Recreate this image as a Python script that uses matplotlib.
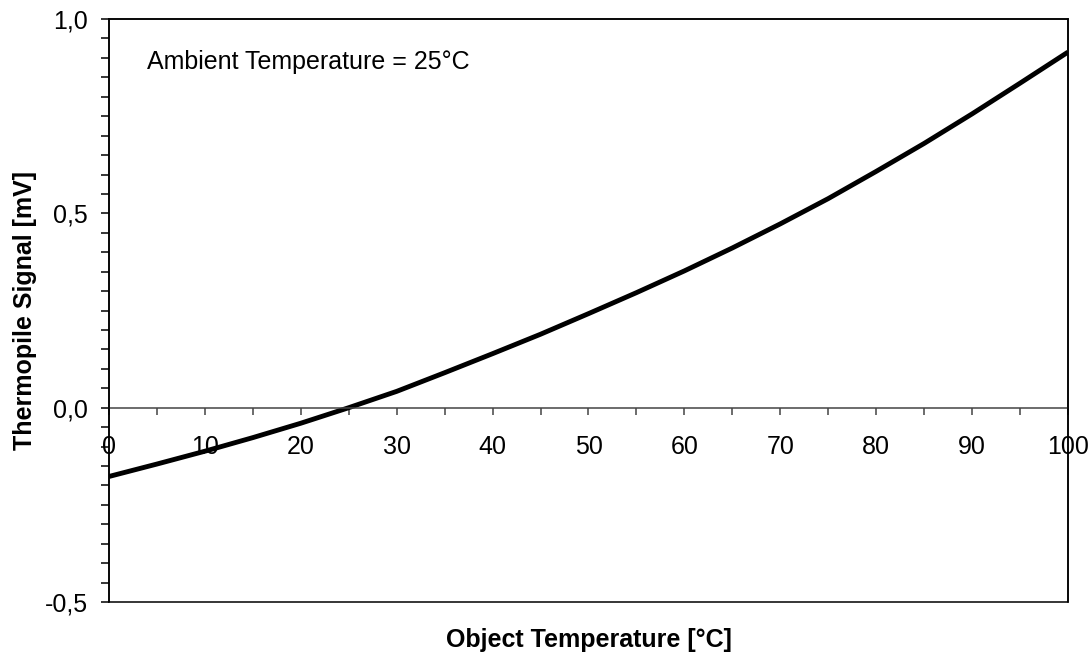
import numpy as np
import matplotlib
matplotlib.use("Agg")
import matplotlib.pyplot as plt
from matplotlib.patches import Rectangle
from matplotlib.ticker import MultipleLocator, FuncFormatter

plt.rcParams['font.family'] = ['Liberation Sans', 'DejaVu Sans']

# object temperature (degC) and thermopile signal (mV)
obj_temp = [0, 5, 10, 15, 20, 25, 30, 35, 40, 45, 50,
            55, 60, 65, 70, 75, 80, 85, 90, 95, 100]
signal = [-0.177, -0.145, -0.112, -0.077, -0.040, 0.000, 0.042, 0.090, 0.139,
          0.189, 0.242, 0.296, 0.352, 0.411, 0.473, 0.538, 0.608, 0.680,
          0.756, 0.835, 0.915]
ambient_text = 'Ambient Temperature = 25°C'

fig = plt.figure(figsize=(10.91, 6.55), dpi=100)
ax = fig.add_axes([0.0999, 0.0809, 0.879, 0.890])

ax.plot(obj_temp, signal, color='black', lw=3.5, solid_capstyle='butt')

ax.set_xlim(0, 100)
ax.set_ylim(-0.5, 1.0)

# x axis runs along the zero line, frame drawn as a box
ax.spines['bottom'].set_position(('data', 0))
ax.spines['bottom'].set_color('#444444')
ax.spines['bottom'].set_linewidth(1.1)
for s in ['left', 'top', 'right']:
    ax.spines[s].set_color('black')
    ax.spines[s].set_linewidth(1.1)
ax.add_patch(Rectangle((0, 0), 1, 1, transform=ax.transAxes, fill=False,
                       edgecolor='black', lw=1.1, clip_on=False, zorder=5))

ax.xaxis.set_major_locator(MultipleLocator(10))
ax.xaxis.set_minor_locator(MultipleLocator(5))
ax.yaxis.set_major_locator(MultipleLocator(0.5))
ax.yaxis.set_minor_locator(MultipleLocator(0.05))
ax.yaxis.set_major_formatter(FuncFormatter(lambda v, p: f'{v:.1f}'.replace('.', ',')))

ax.tick_params(axis='x', which='both', direction='out', length=5, width=1.1,
               color='#444444', labelsize=18, pad=15)
ax.tick_params(axis='y', which='both', direction='out', length=6, width=1.1,
               color='black', labelsize=18, pad=9)

ax.text(0.04, 0.926, ambient_text, transform=ax.transAxes, fontsize=18,
        va='center', ha='left')

ax.set_xlabel('Object Temperature [°C]', fontsize=18, fontweight='bold')
ax.xaxis.set_label_coords(0.5, -0.045)
ax.set_ylabel('Thermopile Signal [mV]', fontsize=18, fontweight='bold')
ax.yaxis.set_label_coords(-0.075, 0.5)

fig.savefig('out.png', dpi=100)
